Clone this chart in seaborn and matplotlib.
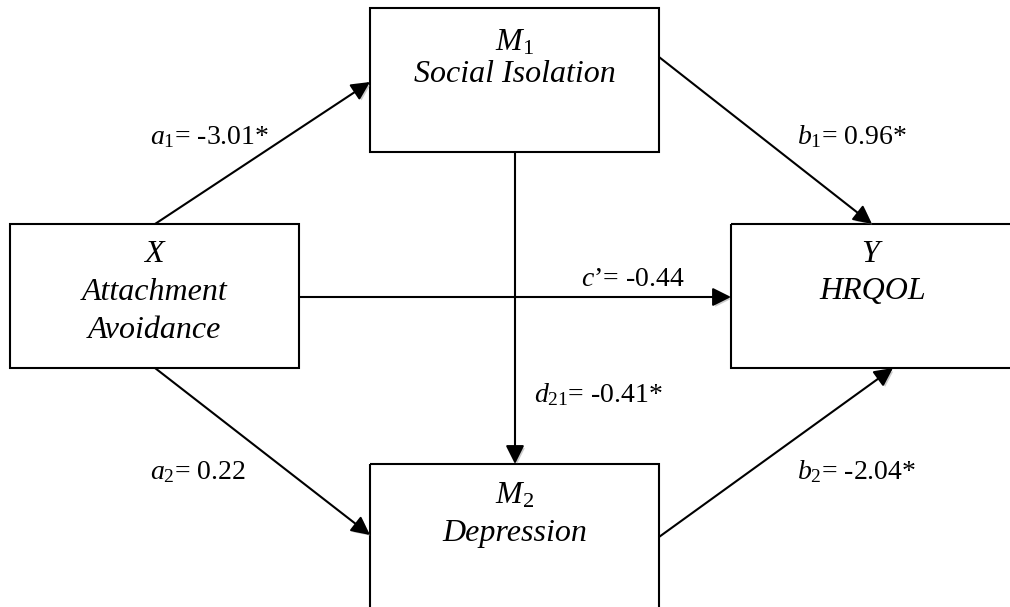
import matplotlib
matplotlib.use("Agg")
import matplotlib.pyplot as plt
import matplotlib.patheffects as pe
from matplotlib.patches import Rectangle
import seaborn as sns

# ---- data ----
node_ids = ["X", "M1", "Y", "M2"]
node_symbols = [r"$X$", r"$M_1$", r"$Y$", r"$M_2$"]
node_names = [["Attachment", "Avoidance"], ["Social Isolation"], ["HRQOL"], ["Depression"]]
path_names = [r"$a_{\mathit{1}}$", r"$b_{\mathit{1}}$", r"$c$’", r"$d_{\mathit{21}}$", r"$a_{\mathit{2}}$", r"$b_{\mathit{2}}$"]
path_values = ["-3.01*", "0.96*", "-0.44", "-0.41*", "0.22", "-2.04*"]
path_from = ["X", "M1", "X", "M1", "X", "M2"]
path_to = ["M1", "Y", "Y", "M2", "M2", "Y"]

# ---- layout (pixel coordinates of the diagram) ----
boxes = {"X": (10, 224, 299, 368), "M1": (370, 8, 659, 152),
         "Y": (731, 224, 1014, 368), "M2": (370, 464, 659, 612)}
arrow_pts = [((155, 224), (370, 82)), ((659, 57), (872, 224)), ((299, 297), (731, 297)),
             ((515, 152), (515, 464)), ((155, 368), (370, 535)), ((659, 537), (893, 368))]
label_pos = [(150, 137), (797, 137), (581, 280), (534, 395), (150, 472), (797, 472)]
sym_y = {"X": 255, "M1": 43, "Y": 255, "M2": 496}
name_y = {"X": [292, 330], "M1": [74], "Y": [291], "M2": [533]}

sns.set_theme(style="white")
plt.rcParams["font.family"] = ["Liberation Serif", "DejaVu Serif"]
plt.rcParams["mathtext.fontset"] = "custom"
plt.rcParams["mathtext.rm"] = "Liberation Serif"
plt.rcParams["mathtext.it"] = "Liberation Serif:italic"
plt.rcParams["text.color"] = "black"

fig = plt.figure(figsize=(10.10, 6.07), dpi=100)
ax = fig.add_axes([0, 0, 1, 1])
ax.set_xlim(0, 1010)
ax.set_ylim(607, 0)
ax.axis("off")

for nid, sym, names in zip(node_ids, node_symbols, node_names):
    x0, y0, x1, y1 = boxes[nid]
    ax.add_patch(Rectangle((x0, y0), x1 - x0, y1 - y0, fill=False, ec="black", lw=1.5, zorder=2))
    cx = (x0 + x1) / 2
    ax.text(cx, sym_y[nid], sym, ha="center", va="center", fontsize=23, style="italic", color="black")
    for nm, yy in zip(names, name_y[nid]):
        ax.text(cx, yy, nm, ha="center", va="center", fontsize=23, style="italic", color="black")

shadow = [pe.SimplePatchShadow(offset=(1.5, -1.5), shadow_rgbFace="0.6", alpha=0.5), pe.Normal()]
for (s, e) in arrow_pts:
    ax.annotate("", xy=e, xytext=s,
                arrowprops=dict(arrowstyle="-|>", mutation_scale=28, lw=1.5, color="black",
                                shrinkA=0, shrinkB=0, path_effects=shadow), zorder=3)

for nm, val, (lx, ly) in zip(path_names, path_values, label_pos):
    ax.text(lx, ly, nm + "= " + val, ha="left", va="center", fontsize=20, color="black")

fig.savefig("out.png", dpi=100)
